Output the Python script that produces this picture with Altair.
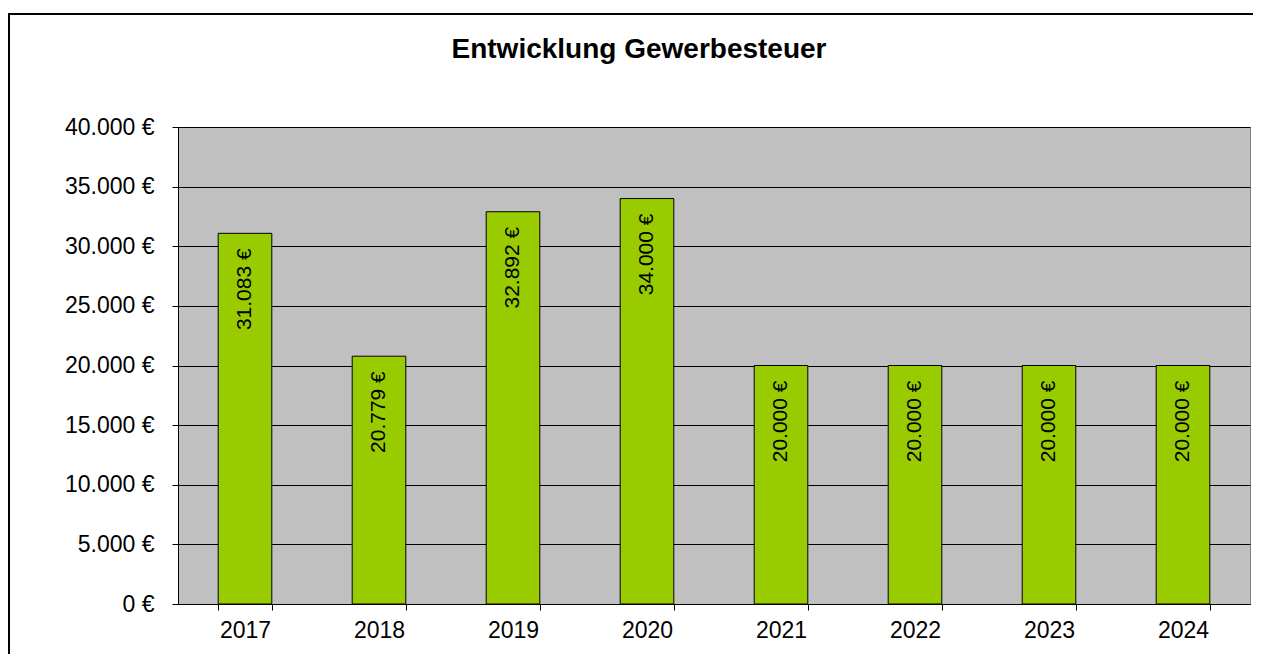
import altair as alt
import pandas as pd

years = ["2017", "2018", "2019", "2020", "2021", "2022", "2023", "2024"]
values = [31083, 20779, 32892, 34000, 20000, 20000, 20000, 20000]
y_ticks = [0, 5000, 10000, 15000, 20000, 25000, 30000, 35000, 40000]
title_text = "Entwicklung Gewerbesteuer"

df = pd.DataFrame({"Jahr": years, "Betrag": values})

FONT = "Liberation Sans"
W, H = 1072, 477

x_enc = alt.X(
    "Jahr:N",
    sort=years,
    title=None,
    scale=alt.Scale(paddingInner=0.6, paddingOuter=0.3),
    axis=alt.Axis(
        labelAngle=0,
        tickBand="extent",
        tickSize=6,
        tickColor="black",
        domainColor="black",
        labelFont=FONT,
        labelFontSize=23,
        labelColor="black",
        labelPadding=9,
        grid=False,
    ),
)
y_enc = alt.Y(
    "Betrag:Q",
    title=None,
    scale=alt.Scale(domain=[0, 40000], nice=False),
    axis=alt.Axis(
        values=y_ticks,
        labelExpr="replace(format(datum.value, ',.0f'), ',', '.') + ' €'",
        tickSize=6,
        tickColor="black",
        domainColor="black",
        labelFont=FONT,
        labelFontSize=23,
        labelColor="black",
        labelPadding=18,
        grid=True,
        gridColor="black",
        gridOpacity=1,
        gridWidth=1,
    ),
)

bars = alt.Chart(df).mark_bar(
    color="#99CC00", stroke="black", strokeWidth=1
).encode(x=x_enc, y=y_enc)

labels = alt.Chart(df).transform_calculate(
    lbl="replace(format(datum.Betrag, ',.0f'), ',', '.') + ' €'"
).mark_text(
    angle=270, align="right", baseline="middle", dx=-15,
    font=FONT, fontSize=21, color="black"
).encode(
    x=alt.X("Jahr:N", sort=years),
    y="Betrag:Q",
    text="lbl:N",
)

frame = alt.Chart(alt.Data(values=[{}])).mark_rect(
    filled=False, stroke="black", strokeWidth=2
).encode(
    x=alt.value(-169), x2=alt.value(1095),
    y=alt.value(-113), y2=alt.value(620),
)

title = alt.Chart(alt.Data(values=[{}])).mark_text(
    font=FONT, fontSize=28, fontWeight="bold", color="black",
    align="center", baseline="alphabetic",
).encode(
    x=alt.value(W / 2 - 75), y=alt.value(-69), text=alt.value(title_text),
)

chart = alt.layer(frame, bars, labels, title).properties(
    width=W,
    height=H,
    autosize=alt.AutoSizeParams(type="none"),
    padding={"left": 170, "top": 119, "right": 3, "bottom": 50},
).configure(
    background="white",
    view=alt.ViewConfig(fill="#C0C0C0", stroke="#808080", strokeWidth=1),
)

chart.save("out.html", embed_options={"renderer": "svg", "actions": False})
